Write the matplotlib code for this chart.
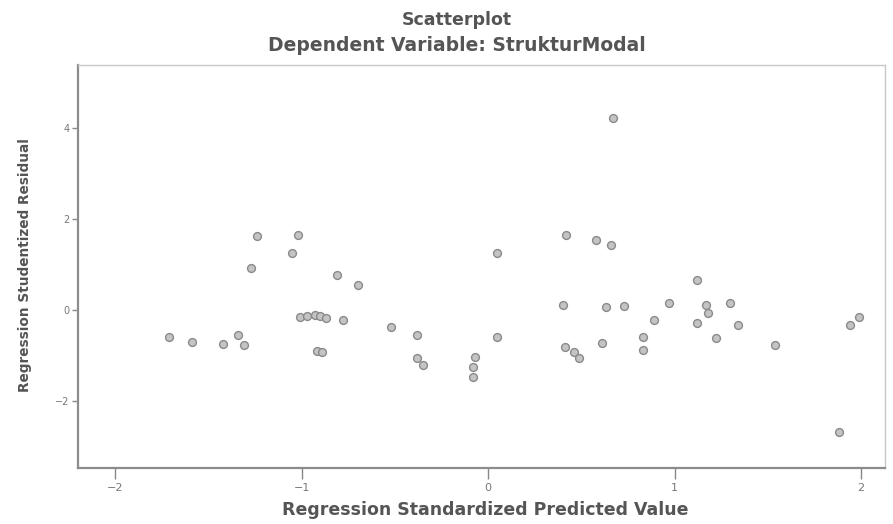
import numpy as np
import matplotlib
matplotlib.use("Agg")
import matplotlib.pyplot as plt

# Standardized predicted values (x) and studentized residuals (y)
pred = [-1.71, -1.59, -1.42, -1.34, -1.31, -1.27, -1.24, -1.05, -1.02, -1.01,
        -0.97, -0.93, -0.90, -0.87, -0.78, -0.92, -0.89, -0.81, -0.70, -0.52,
        -0.38, -0.38, -0.35, -0.07, -0.08, -0.08, 0.05, 0.05, 0.42, 0.58,
        0.66, 0.67, 0.40, 0.63, 0.73, 0.97, 0.89, 0.61, 0.83, 0.83,
        0.41, 0.46, 0.49, 1.12, 1.17, 1.18, 1.30, 1.12, 1.34, 1.22,
        1.54, 1.94, 1.99, 1.88]
resid = [-0.59, -0.70, -0.75, -0.55, -0.77, 0.92, 1.63, 1.25, 1.65, -0.15,
         -0.13, -0.11, -0.13, -0.18, -0.22, -0.90, -0.92, 0.77, 0.55, -0.37,
         -0.55, -1.05, -1.21, -1.03, -1.25, -1.47, 1.25, -0.59, 1.65, 1.54,
         1.43, 4.22, 0.11, 0.07, 0.09, 0.15, -0.22, -0.73, -0.59, -0.88,
         -0.81, -0.92, -1.05, 0.66, 0.11, -0.07, 0.15, -0.29, -0.33, -0.62,
         -0.77, -0.33, -0.15, -2.68]

xticks = [-2, -1, 0, 1, 2]
yticks = [-2, 0, 2, 4]

fig = plt.figure(figsize=(8.93, 5.24), dpi=100)
ax = fig.add_axes([0.0873, 0.107, 0.904, 0.769])

ax.scatter(pred, resid, s=32, marker="o", facecolor="#c4c4c4",
           edgecolor="#8a8a8a", linewidth=1.0)

ax.set_xlim(-2.20, 2.13)
ax.set_ylim(-3.47, 5.38)
ax.set_xticks(xticks)
ax.set_yticks(yticks)
ax.tick_params(axis="x", length=8, width=1, color="#888888",
               labelsize=8, labelcolor="#777777", pad=3)
ax.tick_params(axis="y", length=4, width=1, color="#888888",
               labelsize=7, labelcolor="#777777", pad=2)

for side in ["left", "bottom"]:
    ax.spines[side].set_color("#8c8c8c")
    ax.spines[side].set_linewidth(1.6)
for side in ["top", "right"]:
    ax.spines[side].set_color("#c8c8c8")
    ax.spines[side].set_linewidth(1.0)

# axis titles
fig.text(0.543, 0.027, "Regression Standardized Predicted Value",
         ha="center", va="center", fontsize=12.5, fontweight="bold",
         color="#555555")
fig.text(0.028, 0.494, "Regression Studentized Residual", rotation=90,
         ha="center", va="center", fontsize=9.8, fontweight="bold",
         color="#555555")

fig.text(0.512, 0.962, "Scatterplot", ha="center", va="center",
         fontsize=12.5, fontweight="bold", color="#555555")
fig.text(0.512, 0.914, "Dependent Variable: StrukturModal", ha="center",
         va="center", fontsize=13.5, fontweight="bold", color="#555555")

fig.savefig("out.png", dpi=100, facecolor="white")
